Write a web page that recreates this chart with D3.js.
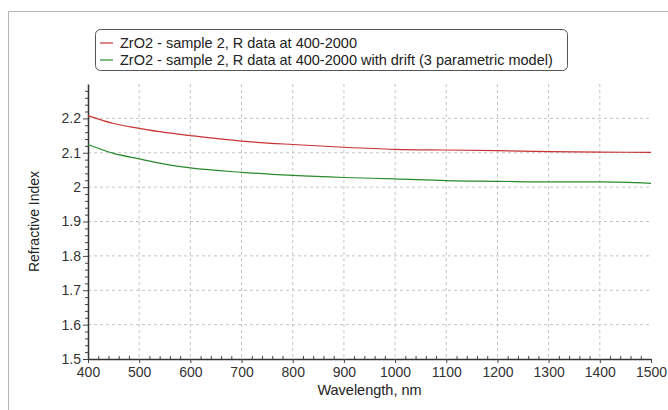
<!DOCTYPE html>
<html>
<head>
<meta charset="utf-8">
<script src="https://cdn.jsdelivr.net/npm/d3@7"></script>
<style>
  body { margin: 0; background: #fff; }
  svg { display: block; font-family: "Liberation Sans", Arial, sans-serif; }
</style>
</head>
<body>
<svg id="chart" width="668" height="410"></svg>
<script>
// Data
const wavelengths = [400, 450, 500, 550, 600, 700, 800, 900, 1000, 1100, 1200, 1300, 1400, 1500];
const redValues   = [2.208, 2.185, 2.171, 2.159, 2.150, 2.134, 2.124, 2.116, 2.110, 2.108, 2.106, 2.103, 2.102, 2.101];
const greenValues = [2.124, 2.098, 2.082, 2.067, 2.056, 2.043, 2.034, 2.028, 2.024, 2.019, 2.017, 2.015, 2.015, 2.011];
const seriesNames = [
  'ZrO2 - sample 2, R data at 400-2000',
  'ZrO2 - sample 2, R data at 400-2000 with drift (3 parametric model)'
];
const seriesColors = ['#c83232', '#2a8a2a'];
const xTicks = [400, 500, 600, 700, 800, 900, 1000, 1100, 1200, 1300, 1400, 1500];
const yTicks = [1.5, 1.6, 1.7, 1.8, 1.9, 2, 2.1, 2.2];

const svg = d3.select('#chart');
const margin = { left: 88, right: 17, top: 84, bottom: 51 };
const width = 668 - margin.left - margin.right;
const height = 410 - margin.top - margin.bottom;

// outer frame (only left and top edges visible)
svg.append('path')
  .attr('d', 'M8.5,410 V11.5 H668')
  .attr('fill', 'none')
  .attr('stroke', '#b4b4b4');

const x = d3.scaleLinear().domain([400, 1500]).range([0, width]);
const y = d3.scaleLinear().domain([1.5, 2.3]).range([height, 0]);

const g = svg.append('g').attr('transform', `translate(${margin.left},${margin.top})`);

// dashed grid
g.selectAll('.vgrid')
  .data(xTicks.slice(1, -1))
  .enter().append('line')
  .attr('x1', d => x(d)).attr('x2', d => x(d))
  .attr('y1', 0).attr('y2', height)
  .attr('stroke', '#c4c4c4')
  .attr('stroke-dasharray', '3,3');

g.selectAll('.hgrid')
  .data(yTicks.slice(1))
  .enter().append('line')
  .attr('x1', 0).attr('x2', width)
  .attr('y1', d => y(d)).attr('y2', d => y(d))
  .attr('stroke', '#c4c4c4')
  .attr('stroke-dasharray', '3,3');

// minor ticks
const xMinor = d3.range(400, 1500, 20).filter(v => v % 100 !== 0);
g.append('g')
  .attr('transform', `translate(0,${height})`)
  .call(d3.axisTop(x).tickValues(xMinor).tickSize(3).tickFormat(''))
  .call(a => a.select('.domain').remove())
  .selectAll('line').attr('stroke', '#444');

const yMinor = d3.range(1.5, 2.3, 0.02).filter(v => Math.abs(v * 10 - Math.round(v * 10)) > 0.01);
g.append('g')
  .call(d3.axisLeft(y).tickValues(yMinor).tickSize(3).tickFormat(''))
  .call(a => a.select('.domain').remove())
  .selectAll('line').attr('stroke', '#444');

// main axes
const xAxis = g.append('g')
  .attr('transform', `translate(0,${height})`)
  .call(d3.axisBottom(x).tickValues(xTicks).tickSize(4).tickSizeOuter(0).tickPadding(4).tickFormat(d3.format('d')));

const yAxis = g.append('g')
  .call(d3.axisLeft(y).tickValues(yTicks).tickSize(5).tickSizeOuter(0).tickPadding(2).tickFormat(d => d3.format('')(d)));

[xAxis, yAxis].forEach(a => {
  a.select('.domain').attr('stroke', '#333').attr('stroke-width', 1.5);
  a.selectAll('line').attr('stroke', '#444');
  a.selectAll('text').attr('fill', '#333').style('font-size', '14px');
});

// lines
const line = d3.line()
  .x((d, i) => x(wavelengths[i]))
  .y(d => y(d))
  .curve(d3.curveMonotoneX);

[redValues, greenValues].forEach((vals, i) => {
  g.append('path')
    .datum(vals)
    .attr('d', line)
    .attr('fill', 'none')
    .attr('stroke', seriesColors[i])
    .attr('stroke-width', 1.2);
});

// axis titles
svg.append('text')
  .attr('x', margin.left + width / 2)
  .attr('y', 395)
  .attr('text-anchor', 'middle')
  .attr('fill', '#222')
  .style('font-size', '14.5px')
  .text('Wavelength, nm');

svg.append('text')
  .attr('transform', `translate(39,${margin.top + height / 2}) rotate(-90)`)
  .attr('text-anchor', 'middle')
  .attr('fill', '#222')
  .style('font-size', '14px')
  .text('Refractive Index');

// legend
const legend = svg.append('g').attr('transform', 'translate(95,29)');
legend.append('rect')
  .attr('x', 0.5).attr('y', 0.5)
  .attr('width', 472).attr('height', 41)
  .attr('rx', 5)
  .attr('fill', '#fff')
  .attr('stroke', '#555');

seriesNames.forEach((name, i) => {
  const row = legend.append('g').attr('transform', `translate(0,${14 + i * 17})`);
  row.append('line')
    .attr('x1', 5).attr('x2', 18)
    .attr('stroke', seriesColors[i])
    .attr('stroke-width', 1.2);
  row.append('text')
    .attr('x', 25).attr('y', 5)
    .attr('fill', '#222')
    .style('font-size', '14.5px')
    .text(name);
});
</script>
</body>
</html>
